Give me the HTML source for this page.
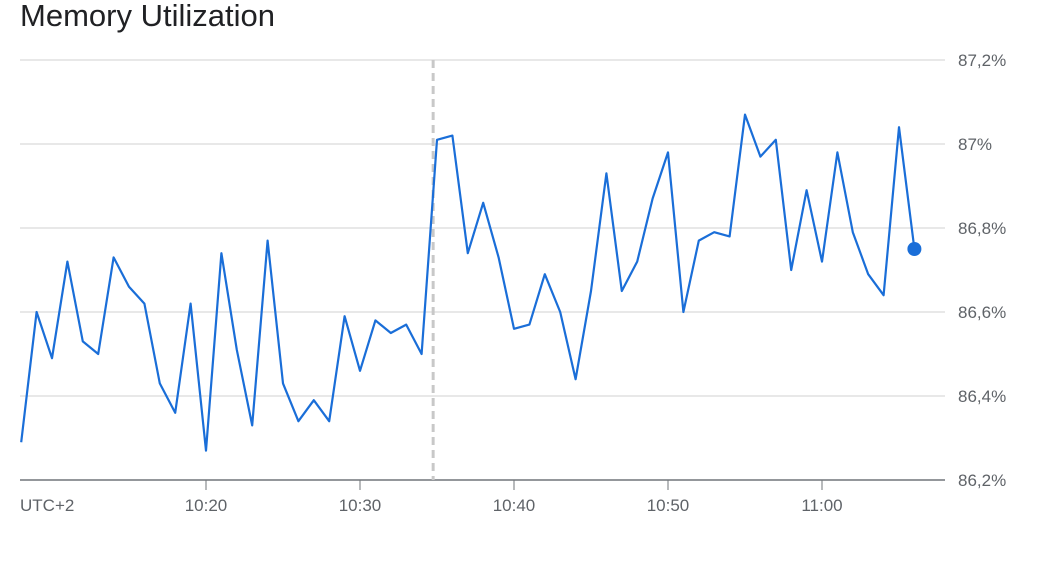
<!DOCTYPE html>
<html><head><meta charset="utf-8"><style>
body{margin:0;background:#fff;width:1042px;height:572px;overflow:hidden;font-family:"Liberation Sans",sans-serif}
#title{position:absolute;left:20px;top:-2px;font-size:31px;color:#202124}
svg{position:absolute;left:0;top:0}
</style></head><body>
<div id="title">Memory Utilization</div>
<svg id="chart" width="1042" height="572"></svg>
<script>
const startMinute = 8; // 10:08
const values = [86.29,86.60,86.49,86.72,86.53,86.50,86.73,86.66,86.62,86.43,86.36,86.62,86.27,86.74,86.51,86.33,86.77,86.43,86.34,86.39,86.34,86.59,86.46,86.58,86.55,86.57,86.50,87.01,87.02,86.74,86.86,86.73,86.56,86.57,86.69,86.60,86.44,86.65,86.93,86.65,86.72,86.87,86.98,86.60,86.77,86.79,86.78,87.07,86.97,87.01,86.70,86.89,86.72,86.98,86.79,86.69,86.64,87.04,86.75];
const yTicks = [86.2,86.4,86.6,86.8,87.0,87.2];
const yTickLabels = ["86,2%","86,4%","86,6%","86,8%","87%","87,2%"];
const xTicks = [20,30,40,50,60];
const xTickLabels = ["10:20","10:30","10:40","10:50","11:00"];
const markerMinute = 34.75;

const NS="http://www.w3.org/2000/svg";
const svg=document.getElementById('chart');
const X=m=>206+(m-20)*15.4;
const Y=v=>480-(v-86.2)*420;
function el(t,a){const e=document.createElementNS(NS,t);for(const k in a)e.setAttribute(k,a[k]);svg.appendChild(e);return e;}
yTicks.forEach((v,i)=>{
  if(i>0){const g=el('line',{x1:20,x2:945,y1:Y(v),y2:Y(v),stroke:'#e8e8e8','stroke-width':2});
  
  }
  const t=el('text',{x:958,y:Y(v)+6,'font-size':17,fill:'#5f6368'});
  t.textContent=yTickLabels[i];
  
  
});
const ax=el('line',{x1:20,x2:945,y1:480,y2:480,stroke:'#70757a','stroke-width':1.5});


const mk=el('line',{x1:X(markerMinute),x2:X(markerMinute),y1:60,y2:480,stroke:'#c8c8c8','stroke-width':3,'stroke-dasharray':'8,5'});


xTicks.forEach((m,i)=>{
  const tk=el('line',{x1:X(m),x2:X(m),y1:480,y2:490,stroke:'#70757a','stroke-width':1});
  
  
  const t=el('text',{x:X(m),y:511,'font-size':17,fill:'#5f6368','text-anchor':'middle'});
  t.textContent=xTickLabels[i];
  
  
});
const tz=el('text',{x:20,y:511,'font-size':17,fill:'#5f6368'});
tz.textContent='UTC+2';


const pts=values.map((v,i)=>X(startMinute+i).toFixed(1)+','+Y(v).toFixed(1)).join(' ');
const pl=el('polyline',{points:pts,fill:'none',stroke:'#1a6ed8','stroke-width':2.2,'stroke-linejoin':'round'});


const li=values.length-1;
const dot=el('circle',{cx:X(startMinute+li),cy:Y(values[li]),r:7,fill:'#1a6ed8'});


</script>
</body></html>
